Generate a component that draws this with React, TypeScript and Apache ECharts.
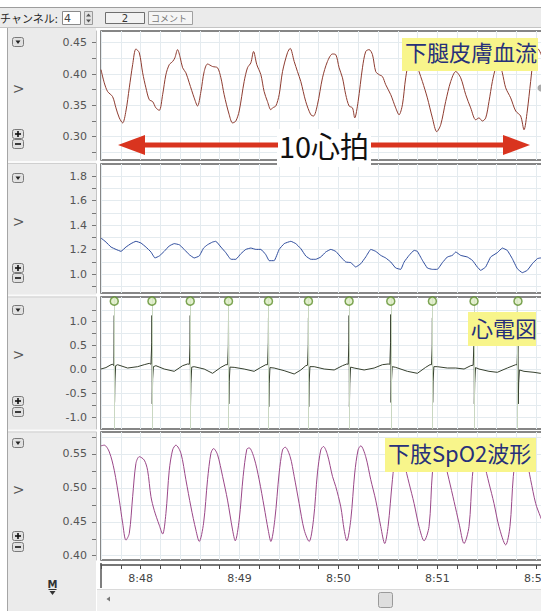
import React, { useEffect, useRef } from 'react';
import * as echarts from 'echarts';

// Time axis: seconds relative to 8:48
const timeTicks = [0, 1, 2, 3, 4];
const timeTickLabels = ['8:48', '8:49', '8:50', '8:51', '8:52'];

// Panel 1: 下腿皮膚血流 (V)
const bloodFlowLabels = [0.30, 0.35, 0.40, 0.45];
const bloodFlowTicks = [0.275, 0.30, 0.325, 0.35, 0.375, 0.40, 0.425, 0.45];
const bloodFlow: [number, number][] = [
  [-0.400, 0.407], [-0.367, 0.386], [-0.333, 0.372], [-0.283, 0.364], [-0.249, 0.346], [-0.215, 0.330], [-0.181, 0.322], [-0.148, 0.341], [-0.114, 0.378], [-0.080, 0.415],
  [-0.047, 0.440], [-0.013, 0.434], [0.021, 0.402], [0.054, 0.378], [0.088, 0.359], [0.122, 0.356], [0.155, 0.346], [0.189, 0.342], [0.223, 0.367], [0.256, 0.399],
  [0.290, 0.415], [0.324, 0.420], [0.347, 0.426], [0.374, 0.439], [0.401, 0.426], [0.425, 0.410], [0.458, 0.402], [0.492, 0.386], [0.542, 0.362], [0.576, 0.349],
  [0.610, 0.372], [0.643, 0.404], [0.677, 0.416], [0.728, 0.412], [0.778, 0.410], [0.812, 0.394], [0.845, 0.367], [0.896, 0.335], [0.930, 0.322], [0.963, 0.325],
  [0.997, 0.341], [1.047, 0.388], [1.081, 0.410], [1.115, 0.418], [1.142, 0.436], [1.175, 0.415], [1.216, 0.399], [1.249, 0.372], [1.283, 0.356], [1.317, 0.343],
  [1.334, 0.346], [1.367, 0.349], [1.401, 0.367], [1.435, 0.404], [1.485, 0.434], [1.512, 0.441], [1.553, 0.420], [1.586, 0.404], [1.620, 0.388], [1.670, 0.356],
  [1.721, 0.335], [1.748, 0.333], [1.788, 0.351], [1.839, 0.394], [1.889, 0.420], [1.940, 0.432], [1.973, 0.431], [2.007, 0.410], [2.041, 0.394], [2.074, 0.367],
  [2.108, 0.349], [2.142, 0.346], [2.165, 0.330], [2.199, 0.356], [2.243, 0.410], [2.276, 0.436], [2.310, 0.439], [2.344, 0.431], [2.377, 0.404], [2.411, 0.399],
  [2.445, 0.396], [2.478, 0.383], [2.529, 0.367], [2.579, 0.346], [2.613, 0.335], [2.647, 0.351], [2.680, 0.394], [2.714, 0.420], [2.765, 0.431], [2.815, 0.404],
  [2.849, 0.388], [2.899, 0.362], [2.950, 0.330], [2.994, 0.308], [3.034, 0.319], [3.084, 0.356], [3.135, 0.388], [3.186, 0.404], [3.236, 0.394], [3.287, 0.367],
  [3.337, 0.346], [3.388, 0.327], [3.421, 0.330], [3.455, 0.325], [3.489, 0.330], [3.522, 0.356], [3.556, 0.388], [3.590, 0.410], [3.623, 0.420], [3.657, 0.402],
  [3.691, 0.378], [3.741, 0.362], [3.792, 0.341], [3.842, 0.333], [3.876, 0.311], [3.909, 0.341], [3.943, 0.388], [3.977, 0.431], [4.010, 0.441], [4.078, 0.420],
  [4.179, 0.378], [4.250, 0.368],
];

// Panel 2: slow wave (V)
const slowWaveLabels = [1.0, 1.2, 1.4, 1.6, 1.8];
const slowWaveTicks = [0.9, 1.0, 1.1, 1.2, 1.3, 1.4, 1.5, 1.6, 1.7, 1.8];
const slowWave: [number, number][] = [
  [-0.400, 1.294], [-0.350, 1.261], [-0.299, 1.220], [-0.249, 1.201], [-0.198, 1.185], [-0.148, 1.220], [-0.097, 1.248], [-0.047, 1.267], [0.004, 1.253], [0.054, 1.220],
  [0.105, 1.180], [0.145, 1.131], [0.189, 1.147], [0.239, 1.185], [0.290, 1.229], [0.340, 1.248], [0.391, 1.239], [0.441, 1.201], [0.492, 1.158], [0.542, 1.131],
  [0.593, 1.147], [0.637, 1.212], [0.677, 1.239], [0.728, 1.261], [0.761, 1.267], [0.812, 1.220], [0.862, 1.174], [0.913, 1.120], [0.963, 1.120], [1.014, 1.166],
  [1.064, 1.201], [1.115, 1.212], [1.165, 1.201], [1.216, 1.201], [1.266, 1.158], [1.300, 1.109], [1.351, 1.109], [1.401, 1.201], [1.452, 1.248], [1.519, 1.267],
  [1.569, 1.248], [1.620, 1.207], [1.670, 1.147], [1.721, 1.120], [1.771, 1.120], [1.822, 1.139], [1.872, 1.180], [1.923, 1.201], [1.973, 1.185], [2.024, 1.139],
  [2.074, 1.098], [2.125, 1.093], [2.175, 1.057], [2.226, 1.084], [2.276, 1.139], [2.327, 1.201], [2.377, 1.185], [2.428, 1.152], [2.478, 1.131], [2.529, 1.098],
  [2.579, 1.049], [2.630, 1.038], [2.664, 1.098], [2.714, 1.152], [2.765, 1.193], [2.798, 1.185], [2.849, 1.112], [2.899, 1.049], [2.950, 1.038], [3.000, 1.038],
  [3.051, 1.093], [3.101, 1.139], [3.152, 1.152], [3.186, 1.180], [3.236, 1.152], [3.303, 1.139], [3.354, 1.112], [3.404, 1.057], [3.438, 1.030], [3.488, 1.057],
  [3.539, 1.139], [3.606, 1.174], [3.657, 1.212], [3.707, 1.193], [3.758, 1.125], [3.808, 1.044], [3.859, 1.011], [3.909, 1.030], [3.960, 1.084], [4.010, 1.125],
  [4.041, 1.131], [4.250, 1.098],
];

// Panel 3: 心電図 (V)
const ecgLabels = [-1.0, -0.5, 0.0, 0.5, 1.0];
const ecgTicks = [-1.0, -0.75, -0.5, -0.25, 0.0, 0.25, 0.5, 0.75, 1.0, 1.25];
const ecgBeatTimes = [-0.266, 0.115, 0.502, 0.889, 1.293, 1.697, 2.108, 2.529, 2.950, 3.371, 3.815];
const cycleMarkerLevel = 1.43;
const ecg: [number, number][] = [
  [-0.400, 0.010], [-0.350, 0.040], [-0.299, 0.100], [-0.280, 0.110], [-0.270, 0.080], [-0.268, 0.550], [-0.266, 1.130], [-0.263, -0.690], [-0.259, -0.250], [-0.252, 0.080],
  [-0.232, 0.100], [-0.131, 0.031], [-0.030, 0.059], [0.037, 0.101], [0.088, 0.129], [0.105, 0.110], [0.113, 0.560], [0.115, 1.130], [0.118, -0.720], [0.122, -0.200],
  [0.130, 0.060], [0.155, 0.080], [0.239, 0.010], [0.340, -0.038], [0.425, 0.080], [0.475, 0.115], [0.493, 0.110], [0.500, 0.520], [0.502, 1.130], [0.505, -0.750],
  [0.509, -0.300], [0.517, 0.050], [0.542, 0.059], [0.643, 0.010], [0.728, -0.080], [0.812, 0.045], [0.862, 0.101], [0.880, 0.100], [0.887, 0.500], [0.889, 1.080],
  [0.892, -0.720], [0.896, -0.250], [0.904, 0.050], [0.946, 0.045], [1.047, 0.010], [1.148, -0.038], [1.216, 0.045], [1.266, 0.101], [1.284, 0.100], [1.291, 0.560],
  [1.293, 1.080], [1.296, -0.780], [1.300, -0.300], [1.308, 0.040], [1.350, 0.031], [1.451, -0.024], [1.553, -0.094], [1.620, -0.010], [1.670, 0.080], [1.688, 0.090],
  [1.695, 0.520], [1.697, 1.080], [1.700, -0.780], [1.704, -0.280], [1.712, 0.060], [1.755, 0.059], [1.856, 0.010], [1.957, -0.010], [2.041, 0.080], [2.085, 0.115],
  [2.099, 0.110], [2.106, 0.560], [2.108, 1.130], [2.111, -0.780], [2.115, -0.300], [2.123, 0.050], [2.159, 0.031], [2.260, -0.010], [2.361, 0.031], [2.445, 0.101],
  [2.502, 0.115], [2.520, 0.110], [2.527, 0.560], [2.529, 1.150], [2.532, -0.690], [2.536, -0.250], [2.544, 0.060], [2.579, 0.045], [2.697, -0.038], [2.798, -0.080],
  [2.882, 0.045], [2.926, 0.101], [2.941, 0.100], [2.948, 0.500], [2.950, 1.080], [2.953, -0.690], [2.957, -0.250], [2.965, 0.060], [3.000, 0.059], [3.101, 0.031],
  [3.186, 0.031], [3.270, 0.010], [3.337, 0.080], [3.362, 0.090], [3.369, 0.480], [3.371, 1.100], [3.374, -0.720], [3.378, -0.280], [3.386, 0.040], [3.421, 0.010],
  [3.522, -0.038], [3.606, -0.059], [3.707, 0.031], [3.792, 0.101], [3.806, 0.100], [3.813, 0.480], [3.815, 1.100], [3.818, -0.720], [3.822, -0.280], [3.830, -0.010],
  [3.876, -0.038], [3.977, -0.059], [4.041, -0.080], [4.250, -0.070],
];

// Panel 4: 下肢SpO2波形 (V)
const spo2Labels = [0.40, 0.45, 0.50, 0.55];
const spo2Ticks = [0.40, 0.425, 0.45, 0.475, 0.50, 0.525, 0.55, 0.575];
const spo2: [number, number][] = [
  [-0.400, 0.562], [-0.367, 0.563], [-0.316, 0.553], [-0.266, 0.526], [-0.215, 0.482], [-0.181, 0.448], [-0.148, 0.423], [-0.114, 0.433], [-0.080, 0.487], [-0.047, 0.536],
  [-0.013, 0.546], [0.037, 0.541], [0.071, 0.526], [0.105, 0.487], [0.138, 0.467], [0.189, 0.445], [0.223, 0.432], [0.256, 0.462], [0.290, 0.526], [0.324, 0.556],
  [0.357, 0.563], [0.408, 0.551], [0.458, 0.512], [0.509, 0.472], [0.559, 0.438], [0.593, 0.421], [0.637, 0.448], [0.677, 0.512], [0.711, 0.551], [0.738, 0.558],
  [0.778, 0.549], [0.829, 0.517], [0.879, 0.482], [0.930, 0.438], [0.957, 0.422], [0.997, 0.453], [1.037, 0.517], [1.074, 0.557], [1.098, 0.559], [1.148, 0.544],
  [1.199, 0.512], [1.249, 0.472], [1.290, 0.438], [1.317, 0.421], [1.357, 0.453], [1.401, 0.522], [1.435, 0.556], [1.462, 0.560], [1.512, 0.546], [1.553, 0.517],
  [1.603, 0.477], [1.654, 0.438], [1.704, 0.421], [1.748, 0.453], [1.788, 0.522], [1.822, 0.556], [1.849, 0.561], [1.889, 0.549], [1.940, 0.517], [1.973, 0.502],
  [2.024, 0.472], [2.058, 0.438], [2.085, 0.422], [2.125, 0.453], [2.165, 0.522], [2.199, 0.556], [2.226, 0.562], [2.276, 0.546], [2.327, 0.512], [2.377, 0.482],
  [2.428, 0.443], [2.468, 0.418], [2.502, 0.443], [2.546, 0.512], [2.579, 0.551], [2.613, 0.561], [2.664, 0.536], [2.714, 0.507], [2.765, 0.477], [2.815, 0.443],
  [2.866, 0.422], [2.916, 0.443], [2.950, 0.522], [2.984, 0.551], [3.017, 0.558], [3.068, 0.541], [3.118, 0.512], [3.169, 0.480], [3.219, 0.448], [3.270, 0.418],
  [3.320, 0.443], [3.354, 0.517], [3.388, 0.551], [3.421, 0.558], [3.472, 0.536], [3.522, 0.507], [3.573, 0.477], [3.623, 0.443], [3.691, 0.416], [3.734, 0.443],
  [3.768, 0.517], [3.802, 0.551], [3.835, 0.558], [3.893, 0.546], [3.943, 0.512], [3.994, 0.477], [4.041, 0.458], [4.095, 0.438], [4.145, 0.418], [4.250, 0.450],
];

const GRID_COLOR = '#e4ebef';
const CJK = '"Noto Sans CJK JP", "Noto Sans CJK SC", sans-serif';
const NUM = '"DejaVu Sans", Verdana, sans-serif';

const panels = [
  { top: 31, height: 129, min: 0.2628, max: 0.4687, labels: bloodFlowLabels, ticks: bloodFlowTicks, dec: 2 },
  { top: 164, height: 129, min: 0.845, max: 1.898, labels: slowWaveLabels, ticks: slowWaveTicks, dec: 1 },
  { top: 297, height: 132, min: -1.245, max: 1.517, labels: ecgLabels, ticks: ecgTicks, dec: 1 },
  { top: 432, height: 128, min: 0.3937, max: 0.5824, labels: spo2Labels, ticks: spo2Ticks, dec: 2 },
];

const ui = {
  collapseY: [37, 173, 305, 438],
  plusY: [129, 263, 396, 531],
  minusY: [139, 273, 407, 542],
  unitY: [89, 222, 355, 490],
  separatorY: [162, 295.5, 430.5],
};

function buildGraphic() {
  const g: any[] = [];
  const Z = 100;
  // toolbar
  g.push({ type: 'rect', z: -10, shape: { x: 0, y: 7, width: 541, height: 21 }, style: { fill: '#ebebeb' } });
  g.push({ type: 'line', z: Z, shape: { x1: 0, y1: 7.5, x2: 541, y2: 7.5 }, style: { stroke: '#9d9d9d', lineWidth: 1 } });
  g.push({ type: 'line', z: Z, shape: { x1: 0, y1: 27.5, x2: 541, y2: 27.5 }, style: { stroke: '#c4c4c4', lineWidth: 1 } });
  g.push({ type: 'text', z: Z, x: 0, y: 18, style: { text: 'チャンネル:', font: `11px ${CJK}`, fill: '#1e1e1e', verticalAlign: 'middle' } });
  g.push({ type: 'rect', z: Z, shape: { x: 62.5, y: 11.5, width: 18, height: 13 }, style: { fill: '#fff', stroke: '#8a8a8a', lineWidth: 1 } });
  g.push({ type: 'text', z: Z, x: 64, y: 18, style: { text: '4', font: `11px ${NUM}`, fill: '#444', verticalAlign: 'middle' } });
  g.push({ type: 'rect', z: Z, shape: { x: 84.5, y: 11.5, width: 8, height: 13 }, style: { fill: '#e2e2e2', stroke: '#9a9a9a', lineWidth: 1 } });
  g.push({ type: 'polygon', z: Z, shape: { points: [[86, 16.5], [91, 16.5], [88.5, 13.5]] }, style: { fill: '#555' } });
  g.push({ type: 'polygon', z: Z, shape: { points: [[86, 19.5], [91, 19.5], [88.5, 22.5]] }, style: { fill: '#555' } });
  g.push({ type: 'rect', z: Z, shape: { x: 105.5, y: 12.5, width: 39, height: 11 }, style: { fill: '#f2f2f2', stroke: '#6f6f6f', lineWidth: 1 } });
  g.push({ type: 'text', z: Z, x: 125, y: 18, style: { text: '2', font: `10px ${NUM}`, fill: '#333', align: 'center', verticalAlign: 'middle' } });
  g.push({ type: 'rect', z: Z, shape: { x: 148.5, y: 11.5, width: 44, height: 13 }, style: { fill: '#f5f5f5', stroke: '#a0a0a0', lineWidth: 1 } });
  g.push({ type: 'text', z: Z, x: 151, y: 18, style: { text: 'コメント', font: `9px ${CJK}`, fill: '#777', verticalAlign: 'middle' } });

  // left column
  g.push({ type: 'rect', z: -10, shape: { x: 7, y: 28, width: 89, height: 583 }, style: { fill: '#ebebeb' } });
  g.push({ type: 'line', z: Z, shape: { x1: 7.5, y1: 28, x2: 7.5, y2: 611 }, style: { stroke: '#a5a5a5', lineWidth: 1 } });
  ui.separatorY.forEach((y) => {
    g.push({ type: 'line', z: Z, shape: { x1: 8, y1: y, x2: 96, y2: y }, style: { stroke: '#fafafa', lineWidth: 2 } });
    g.push({ type: 'line', z: Z, shape: { x1: 8, y1: y + 1.5, x2: 96, y2: y + 1.5 }, style: { stroke: '#cfcfcf', lineWidth: 1 } });
  });
  const btn = (y: number) => ({ type: 'rect', z: Z, shape: { x: 12.5, y: y + 0.5, width: 11, height: 9, r: 2 }, style: { fill: '#e1e1e1', stroke: '#7a7a7a', lineWidth: 1 } });
  for (let i = 0; i < 4; i++) {
    const cy = ui.collapseY[i];
    g.push(btn(cy));
    g.push({ type: 'polygon', z: Z, shape: { points: [[15.5, cy + 3.5], [20.5, cy + 3.5], [18, cy + 7]] }, style: { fill: '#222' } });
    const py = ui.plusY[i];
    g.push(btn(py));
    g.push({ type: 'line', z: Z, shape: { x1: 15, y1: py + 5, x2: 21, y2: py + 5 }, style: { stroke: '#111', lineWidth: 1.6 } });
    g.push({ type: 'line', z: Z, shape: { x1: 18, y1: py + 2, x2: 18, y2: py + 8 }, style: { stroke: '#111', lineWidth: 1.6 } });
    const my = ui.minusY[i];
    g.push(btn(my));
    g.push({ type: 'line', z: Z, shape: { x1: 15, y1: my + 5, x2: 21, y2: my + 5 }, style: { stroke: '#111', lineWidth: 1.6 } });
    g.push({ type: 'text', z: Z, x: 19, y: ui.unitY[i], rotation: Math.PI / 2, style: { text: 'V', font: `12px ${NUM}`, fill: '#555', align: 'center', verticalAlign: 'middle' } });
  }

  // small handle at the right edge of the first plot
  g.push({ type: 'circle', z: Z, shape: { cx: 541, cy: 88, r: 3.5 }, style: { fill: '#a9a9a9' } });

  // bottom: M icon, axis frame, scrollbar
  g.push({ type: 'text', z: Z, x: 52.5, y: 584, style: { text: 'M', font: `bold 10px ${NUM}`, fill: '#333', align: 'center', verticalAlign: 'middle' } });
  g.push({ type: 'line', z: Z, shape: { x1: 48.5, y1: 589.5, x2: 56.5, y2: 589.5 }, style: { stroke: '#333', lineWidth: 1 } });
  g.push({ type: 'polygon', z: Z, shape: { points: [[49.5, 591], [55.5, 591], [52.5, 595]] }, style: { fill: '#333' } });
  g.push({ type: 'line', z: Z, shape: { x1: 101, y1: 563, x2: 101, y2: 588 }, style: { stroke: '#555', lineWidth: 1.5 } });
  g.push({ type: 'rect', z: Z, shape: { x: 97, y: 589, width: 444, height: 22 }, style: { fill: '#f1f1f1' } });
  g.push({ type: 'line', z: Z, shape: { x1: 97, y1: 589.5, x2: 541, y2: 589.5 }, style: { stroke: '#dadada', lineWidth: 1 } });
  g.push({ type: 'polygon', z: Z, shape: { points: [[106.5, 599], [110, 596.5], [110, 601.5]] }, style: { fill: '#777' } });
  g.push({ type: 'rect', z: Z, shape: { x: 378.5, y: 592.5, width: 14, height: 15, r: 2 }, style: { fill: '#dedede', stroke: '#9a9a9a', lineWidth: 1 } });

  // "10心拍" annotation
  const red = '#d9341f';
  g.push({ type: 'rect', z: Z, shape: { x: 277, y: 129, width: 94, height: 38 }, style: { fill: '#fff' } });
  g.push({ type: 'line', z: Z + 1, shape: { x1: 140, y1: 145, x2: 278, y2: 145 }, style: { stroke: red, lineWidth: 5 } });
  g.push({ type: 'polygon', z: Z + 1, shape: { points: [[118, 145], [145, 135], [145, 155]] }, style: { fill: red } });
  g.push({ type: 'line', z: Z + 1, shape: { x1: 371, y1: 145, x2: 508, y2: 145 }, style: { stroke: red, lineWidth: 5 } });
  g.push({ type: 'polygon', z: Z + 1, shape: { points: [[530, 145], [503, 135], [503, 155]] }, style: { fill: red } });
  g.push({ type: 'text', z: Z + 2, x: 324, y: 145, style: { text: '10心拍', font: `29px ${CJK}`, fill: '#111', align: 'center', verticalAlign: 'middle' } });

  // yellow labels
  const yellow = '#f8f58b';
  const navy = '#27307a';
  const labelBox = (x: number, y: number, w: number, h: number, text: string, ty: number) => {
    g.push({ type: 'rect', z: Z, shape: { x, y, width: w, height: h }, style: { fill: yellow } });
    g.push({ type: 'text', z: Z + 1, x: x + 3, y: ty, style: { text, font: `22px ${CJK}`, fill: navy, verticalAlign: 'middle' } });
  };
  labelBox(402, 38, 136, 33, '下腿皮膚血流', 51);
  labelBox(468, 312, 68, 34, '心電図', 327);
  labelBox(385, 438, 151, 34, '下肢SpO2波形', 452);
  return g;
}

export default function App() {
  const ref = useRef<HTMLDivElement>(null);
  useEffect(() => {
    document.body.style.margin = '0';
    document.body.style.overflow = 'hidden';
    if (!ref.current) return;
    const chart = echarts.init(ref.current, null, { renderer: 'svg' });

    const grids = panels.map((p) => ({
      left: 101, width: 460, top: p.top, height: p.height,
      show: true, backgroundColor: '#fff', borderColor: '#5f5f5f', borderWidth: 1.5,
    }));

    const xAxes = panels.map((_, i) => ({
      type: 'value', gridIndex: i, min: -0.4, max: 4.25, interval: 0.2,
      offset: i === 3 ? 5 : 0,
      axisLine: { show: i === 3, onZero: false, lineStyle: { color: '#4a4a4a', width: 1.5 } },
      axisTick: { show: i === 3, length: 4, lineStyle: { color: '#4a4a4a' } },
      axisLabel: {
        show: i === 3, customValues: timeTicks, margin: 8, fontSize: 11, color: '#444', fontFamily: NUM,
        formatter: (v: number) => {
          const k = timeTicks.findIndex((t) => Math.abs(t - v) < 1e-6);
          return k >= 0 ? timeTickLabels[k] : '';
        },
      },
      splitLine: { show: true, lineStyle: { color: GRID_COLOR, width: 1 } },
    }));

    const yAxes = panels.map((p, i) => ({
      type: 'value', gridIndex: i, min: p.min, max: p.max, offset: 5,
      axisLine: { show: true, onZero: false, lineStyle: { color: '#c4c4c4' } },
      axisTick: { show: true, customValues: p.ticks, length: 4, lineStyle: { color: '#777' } },
      axisLabel: {
        customValues: p.labels, margin: 9, fontSize: 11, color: '#555', fontFamily: NUM,
        formatter: (v: number) => v.toFixed(p.dec),
      },
      splitLine: { show: true, lineStyle: { color: GRID_COLOR, width: 1 } },
    }));

    const lineBase = { type: 'line', symbol: 'none', silent: true, z: 3 };
    const option: any = {
      animation: false,
      backgroundColor: '#fff',
      textStyle: { fontFamily: NUM },
      grid: grids,
      xAxis: xAxes,
      yAxis: yAxes,
      series: [
        { ...lineBase, name: '下腿皮膚血流', xAxisIndex: 0, yAxisIndex: 0, data: bloodFlow, smooth: 0.3, lineStyle: { color: '#8e3c30', width: 1 } },
        { ...lineBase, name: 'slow', xAxisIndex: 1, yAxisIndex: 1, data: slowWave, smooth: 0.1, lineStyle: { color: '#2d4b9c', width: 1 } },
        {
          ...lineBase, name: '心電図', xAxisIndex: 2, yAxisIndex: 2, data: ecg, lineStyle: { color: '#37412f', width: 1 },
          markLine: {
            silent: true, symbol: ['none', 'none'], label: { show: false },
            lineStyle: { color: '#c9d7c1', width: 1, type: 'solid' },
            data: ecgBeatTimes.map((t) => ({ xAxis: t })),
          },
        },
        {
          type: 'scatter', name: 'cycle', xAxisIndex: 2, yAxisIndex: 2, silent: true, z: 5,
          data: ecgBeatTimes.map((t) => [t, cycleMarkerLevel]),
          symbol: 'circle', symbolSize: 8,
          itemStyle: { color: '#dcebc3', borderColor: '#5d8e2a', borderWidth: 1.5 },
        },
        { ...lineBase, name: '下肢SpO2波形', xAxisIndex: 3, yAxisIndex: 3, data: spo2, smooth: 0.3, lineStyle: { color: '#9a4788', width: 1 } },
      ],
      graphic: buildGraphic(),
    };
    chart.setOption(option);
    return () => chart.dispose();
  }, []);

  return (
    <div style={{ width: 541, height: 611, overflow: 'hidden', position: 'relative', background: '#fff' }}>
      <div ref={ref} style={{ width: 580, height: 611 }} />
    </div>
  );
}
